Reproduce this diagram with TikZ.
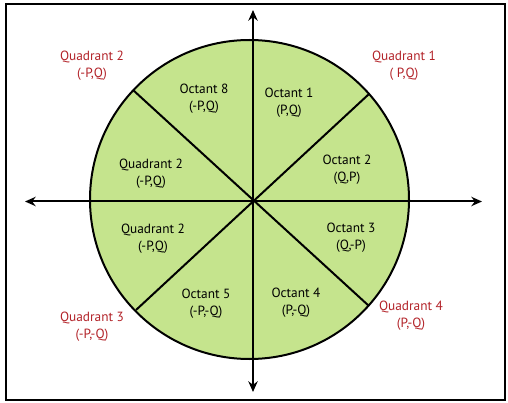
\documentclass[tikz,border=0pt]{standalone}
\usepackage{fontspec}
\setmainfont{PT Sans}
\usetikzlibrary{arrows.meta}
\definecolor{octgreen}{RGB}{197,228,141}
\definecolor{quadred}{RGB}{178,34,40}
\begin{document}
\begin{tikzpicture}[x=0.75pt,y=-0.75pt,
  axisline/.style={line width=1.5pt,{Stealth[length=8pt,width=7pt]}-{Stealth[length=8pt,width=7pt]}},
  chord/.style={line width=1.5pt},
  lab/.style={align=center,font=\fontsize{10}{12.5}\selectfont,inner sep=0pt},
  redlab/.style={lab,text=quadred}]
\useasboundingbox (0,0) rectangle (508,403);
\draw[line width=0.9pt] (6,4) rectangle (505,400);
\fill[octgreen] (249.5,199.5) circle[radius=159.5];
% coordinates
\coordinate (O) at (253,201);
\coordinate (T) at (253,10);
\coordinate (B) at (253,392);
\coordinate (L) at (25,201.5);
\coordinate (R) at (482,201.5);
\coordinate (UL) at (133,90);
\coordinate (LR) at (369,306);
\coordinate (LL) at (136,310);
\coordinate (UR) at (369,94);
\draw[chord] (UL) -- (LR);
\draw[chord] (LL) -- (UR);
\draw[line width=1.5pt] (249.5,199.5) circle[radius=159.5];
\draw[axisline] (B) -- (T);
\draw[axisline] (L) -- (R);
% labels
\node[redlab] (q1) at (404,66) {Quadrant 1\\( P,Q)};
\node[redlab] (q2) at (92,66) {Quadrant 2\\(-P,Q)};
\node[redlab] (q3) at (92,326.5) {Quadrant 3\\(-P,-Q)};
\node[redlab] (q4) at (411,316) {Quadrant 4\\(P,-Q)};
\node[lab] (o8) at (204,98.5) {Octant 8\\(-P,Q)};
\node[lab] (o1) at (289,102.5) {Octant 1\\(P,Q)};
\node[lab] (o2) at (347,170) {Octant 2\\(Q,P)};
\node[lab] (o3) at (351,238) {Octant 3\\(Q,-P)};
\node[lab] (o4) at (296,302.5) {Octant 4\\(P,-Q)};
\node[lab] (o5) at (206,303.5) {Octant 5\\(-P,-Q)};
\node[lab] (qa) at (151,173.5) {Quadrant 2\\(-P,Q)};
\node[lab] (qb) at (153,238.5) {Quadrant 2\\(-P,Q)};
\end{tikzpicture}
\end{document}
